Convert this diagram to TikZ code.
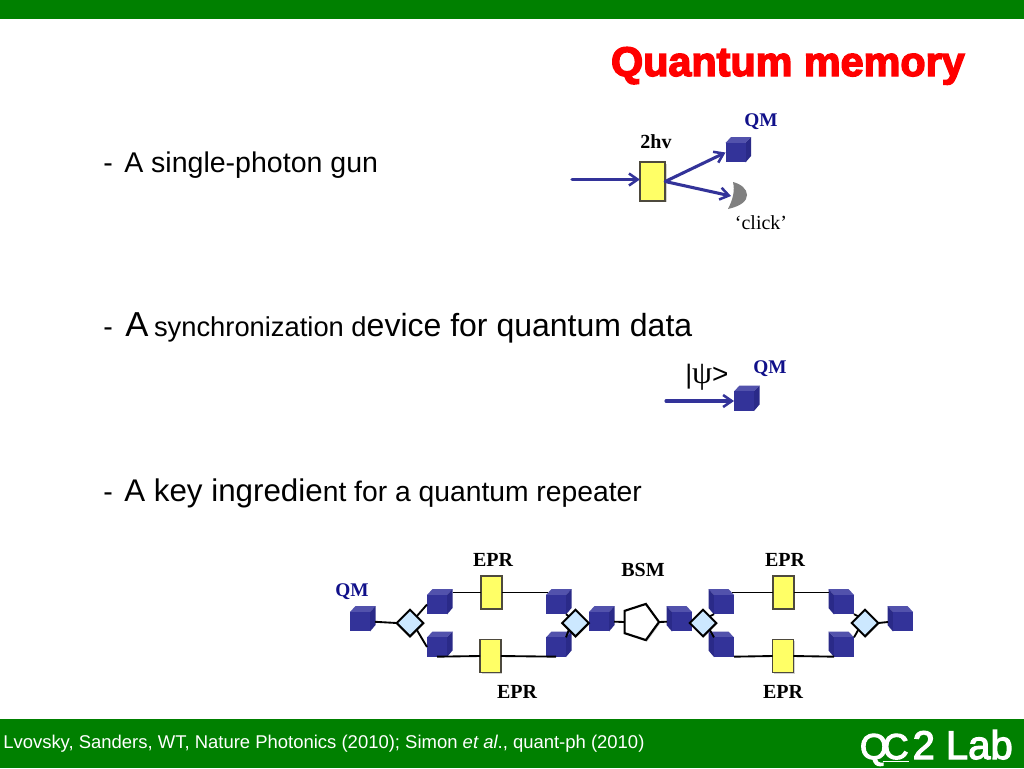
\documentclass[tikz,border=0pt]{standalone}
\usepackage{fontspec}
\setmainfont{Liberation Sans}
\newfontfamily\serifx{Liberation Serif}
\newfontface\titlefont[FakeBold=3.5]{Liberation Sans Bold}
\newfontface\labfont[FakeBold=3]{Liberation Sans}
\usetikzlibrary{shapes.geometric,shadows,arrows.meta}
\definecolor{barG}{HTML}{008000}
\definecolor{cubeF}{HTML}{333399}
\definecolor{cubeT}{HTML}{5252AC}
\definecolor{cubeS}{HTML}{2A2A88}
\definecolor{arrowB}{HTML}{333399}
\definecolor{boxY}{HTML}{FFFF66}
\definecolor{diaB}{HTML}{CCE8FF}
\definecolor{qmB}{HTML}{10108A}
\newcommand{\fsz}[1]{\fontsize{#1}{#1}\selectfont}
\tikzset{
  x=0.75pt,y=-0.75pt,
  cubeface/.style={fill=cubeF,minimum width=15pt,minimum height=14.5pt,inner sep=0pt,outer sep=0pt},
  ybox/.style={draw=black!80!yellow,line width=1.1pt,fill=boxY,inner sep=0pt,outer sep=0pt,minimum width=15.5pt,minimum height=24.5pt,drop shadow={shadow xshift=1.2pt,shadow yshift=-1.2pt,opacity=0.35}},
  dia/.style={diamond,draw=black,line width=1.5pt,fill=diaB,inner sep=0pt,outer sep=0pt,minimum width=20pt,minimum height=20pt,drop shadow={shadow xshift=0.8pt,shadow yshift=-0.8pt,opacity=0.3}},
  penta/.style={regular polygon,regular polygon sides=5,shape border rotate=-90,draw=black,line width=1.6pt,fill=white,inner sep=0pt,outer sep=0pt,minimum size=28.5pt,drop shadow={shadow xshift=1pt,shadow yshift=-1pt,opacity=0.35}},
  wire/.style={draw=black,line width=1.4pt},
  beam/.style={draw=arrowB,line width=2.3pt,line cap=round,-{Straight Barb[length=6.5pt,width=9pt,line width=1.9pt]}},
  body/.style={anchor=base west,inner sep=0pt,text=black},
  serl/.style={inner sep=0pt,font=\serifx\bfseries\fsz{15}},
  qm/.style={inner sep=0pt,font=\serifx\bfseries\fsz{14.5},text=qmB},
}
% \cubeR{name}{front centre x}{front centre y}: depth to the right
\newcommand{\cubeR}[3]{%
  \fill[cubeT] (#2-10,#3-9.5) -- ++(5.5,-6) -- ++(20,0) -- ++(-5.5,6) -- cycle;
  \fill[cubeS] (#2+10,#3-9.5) -- ++(5.5,-6) -- ++(0,19) -- ++(-5.5,6.5) -- cycle;
  \node[cubeface] (#1) at (#2,#3) {};
  \coordinate (#1r) at (#2+15.5,#3-12);
  \coordinate (#1l) at (#2-8,#3-12);
}
\newcommand{\cubeL}[3]{%
  \fill[cubeT] (#2+10,#3-9.5) -- ++(-5.5,-6) -- ++(-20,0) -- ++(5.5,6) -- cycle;
  \fill[cubeS] (#2-10,#3-9.5) -- ++(-5.5,-6) -- ++(0,19) -- ++(5.5,6.5) -- cycle;
  \node[cubeface] (#1) at (#2,#3) {};
  \coordinate (#1r) at (#2+8,#3-12);
  \coordinate (#1l) at (#2-15.5,#3-12);
}
\begin{document}
\begin{tikzpicture}
\useasboundingbox (0,0) rectangle (1024,768);
\fill[white] (0,0) rectangle (1024,768);
\fill[barG] (0,0) rectangle (1024,19);
\fill[barG] (0,719) rectangle (1024,768);
\node[anchor=base east,inner sep=0pt,text=red,font=\titlefont\fsz{31}] (title) at (965,76) {Quantum memory};

% bullets
\node[body,font=\fsz{21.4}] (d1) at (103,172) {-};
\node[body,font=\fsz{21.4}] (b1) at (124,172) {A single-photon gun};
\node[body,font=\fsz{21.4}] (d2) at (103,336) {-};
\node[body] (b2) at (125,336) {\fsz{26}A \hspace{-3pt}\fsz{20.5}synchronization d\fsz{24}evice for quantum data};
\node[body,font=\fsz{21.4}] (d3) at (103,501) {-};
\node[body] (b3) at (124,501) {\fsz{23.5}A key ingredie\fsz{21.2}nt for a quantum repeater};

% single-photon gun
\coordinate (in1) at (572,179.5);
\node[ybox,minimum width=19pt,minimum height=29pt] (gun) at (652.5,181.5) {};
\cubeR{gq}{735.5}{152.5}
\fill[gray] (733,182) .. controls (741,184) and (747,189) .. (747,195) .. controls (747,201) and (741,206) .. (728,209) .. controls (733,199) and (735,191) .. (733,182) -- cycle;
\coordinate (det) at (731,196);
\draw[beam] (in1) -- (in1-|gun.west);
\draw[beam] (gun.east) -- (gq.west);
\draw[beam] (gun.east) -- (det);
\node[serl] (l2hv) at (656,142) {2hv};
\node[qm] (lqm1) at (761,122) {QM};
\node[inner sep=0pt,font=\serifx\fsz{15}] (lclick) at (761,223) {‘click’};

% sync device
\coordinate (in2) at (666,401);
\cubeR{sq}{744}{401}
\draw[beam] (in2) -- (sq.west);
\node[inner sep=0pt,anchor=base west] (lpsi) at (685,383) {\fsz{20}|{\serifx\fsz{24}ψ}\fsz{21}>};
\node[qm] (lqm2) at (770,369) {QM};

% repeater: cubes
\cubeR{ca}{360}{621.5}
\cubeR{cb}{437}{604.5}
\cubeR{cc}{437}{647}
\cubeR{cd}{556}{604.5}
\cubeR{ce}{556}{647}
\cubeR{cf}{599}{621.5}
\cubeL{cg}{682}{621.5}
\cubeL{ch}{724}{604.5}
\cubeL{ci}{724}{647}
\cubeL{cj}{844}{604.5}
\cubeL{ck}{844}{647}
\cubeL{cl}{903}{621.5}

% repeater: diamonds, boxes and measurement
\node[dia] (da) at (410,623) {};
\node[dia] (db) at (575.5,623) {};
\node[dia] (dc) at (703,623) {};
\node[dia] (dd) at (865,623) {};
\node[ybox] (ya) at (491.5,592.5) {};
\node[ybox] (yb) at (490.5,656) {};
\node[ybox] (yc) at (783.5,592.5) {};
\node[ybox] (yd) at (783,656) {};
\node[penta] (bsm) at (640,622) {};

% repeater: wires
\draw[wire,shorten <=3.75pt] (ca.east) -- (da.west);
\draw[wire] (da.north east) -- (cb.west);
\draw[wire] (da.south east) -- (cc.west);
\draw[wire] (cbr) -- (ya.west);
\draw[wire] (ya.east) -- (cdl);
\draw[wire] (cc.south) -- (yb.west);
\draw[wire] (yb.east) -- (ce.south);
\draw[wire] (cd.south east) -- (db.north west);
\draw[wire] (ce.north east) -- (db.south west);
\draw[wire,shorten <=3.75pt] (cf.east) -- (bsm.west);
\draw[wire,shorten >=3.75pt] (bsm.east) -- (cg.west);
\draw[wire] (dc.north east) -- (ch.south west);
\draw[wire] (dc.south east) -- (ci.north west);
\draw[wire] (chr) -- (yc.west);
\draw[wire] (yc.east) -- (cjl);
\draw[wire] (ci.south east) -- (yd.west);
\draw[wire] (yd.east) -- (ck.south west);
\draw[wire] (cj.south east) -- (dd.north west);
\draw[wire] (ck.north east) -- (dd.south west);
\draw[wire,shorten >=3.75pt] (dd.east) -- (cl.west);

\node[serl] (le1) at (493,560) {EPR};
\node[serl] (le2) at (517,692) {EPR};
\node[serl] (le3) at (785,560) {EPR};
\node[serl] (le4) at (783,692) {EPR};
\node[serl] (lbsm) at (643,570) {BSM};
\node[qm] (lqm3) at (352,592) {QM};

% footer
\node[anchor=base west,inner sep=0pt,text=white,font=\fsz{13.85}] (foot) at (3,748) {Lvovsky, Sanders, WT, Nature Photonics (2010); Simon \textit{et al}., quant-ph (2010)};
\node[anchor=base east,inner sep=0pt,text=white,font=\labfont\fsz{30}] (lab) at (1013,759) {{\fsz{27}Q\kern-4pt\underline{C}}\kern3pt 2 Lab};
\end{tikzpicture}
\end{document}
